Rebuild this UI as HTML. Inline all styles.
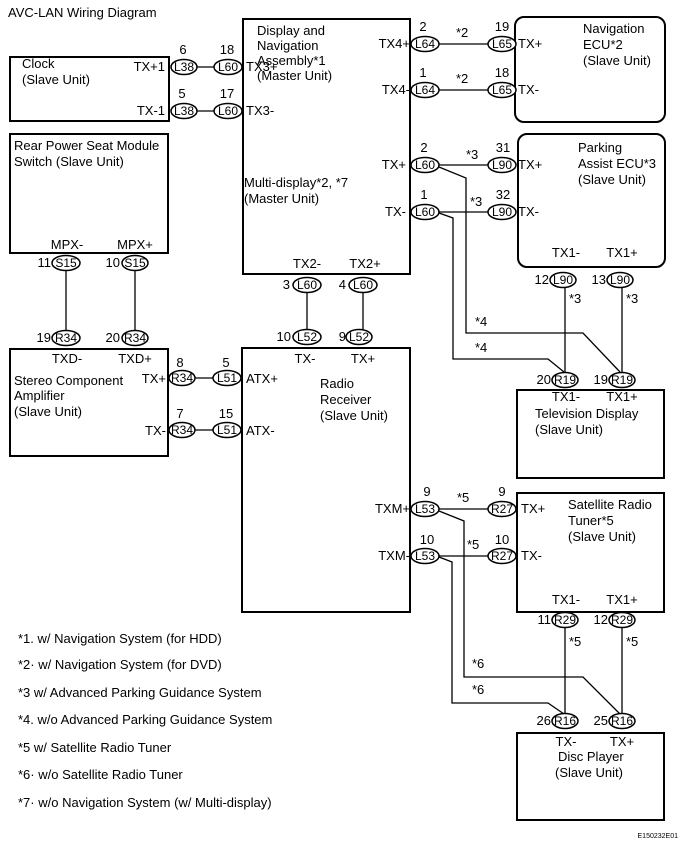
<!DOCTYPE html>
<html><head><meta charset="utf-8"><style>
html,body{margin:0;padding:0;background:#fff;}
svg{display:block;}
text{font-family:"Liberation Sans",Arial,sans-serif;font-size:13px;fill:#000;}
.c text{font-size:12px;}
</style></head><body>
<svg width="686" height="847" viewBox="0 0 686 847" xmlns="http://www.w3.org/2000/svg">
<g fill="none" stroke="#000" stroke-width="2">
<rect x="10" y="57" width="159" height="64"/>
<rect x="10" y="134" width="158" height="119"/>
<rect x="10" y="349" width="158" height="107"/>
<rect x="243" y="19" width="167" height="255"/>
<rect x="242" y="348" width="168" height="264"/>
<rect x="515" y="17" width="150" height="105" rx="9"/>
<rect x="518" y="134" width="147" height="133" rx="9"/>
<rect x="517" y="390" width="147" height="88"/>
<rect x="517" y="493" width="147" height="119"/>
<rect x="517" y="733" width="147" height="87"/>
</g>
<g fill="none" stroke="#000" stroke-width="1.3">
<line x1="196" y1="67" x2="215" y2="67"/><line x1="196" y1="111" x2="215" y2="111"/>
<line x1="439" y1="44" x2="488" y2="44"/><line x1="439" y1="90" x2="488" y2="90"/>
<line x1="439" y1="165" x2="488" y2="165"/><line x1="439" y1="212" x2="488" y2="212"/>
<polyline points="439,167 466,178 466,333 583,333 620,372"/>
<polyline points="439,213 453,218 453,359 548,359 564,372"/>
<line x1="565" y1="287" x2="565" y2="373"/><line x1="622" y1="287" x2="622" y2="373"/>
<line x1="66" y1="270" x2="66" y2="331"/><line x1="135" y1="270" x2="135" y2="331"/>
<line x1="307" y1="292" x2="307" y2="330"/><line x1="363" y1="292" x2="363" y2="330"/>
<line x1="194" y1="378" x2="214" y2="378"/><line x1="194" y1="430" x2="214" y2="430"/>
<line x1="439" y1="509" x2="488" y2="509"/><line x1="439" y1="556" x2="488" y2="556"/>
<polyline points="439,511 464,521 464,677 583,677 620,714"/>
<polyline points="439,557 452,562 452,703 548,703 564,714"/>
<line x1="565" y1="627" x2="565" y2="715"/><line x1="622" y1="627" x2="622" y2="715"/>
</g>
<g fill="#fff" stroke="#000" stroke-width="1.5">
<ellipse cx="184" cy="67" rx="13" ry="7.5"/><ellipse cx="228" cy="67" rx="14" ry="7.5"/>
<ellipse cx="184" cy="111" rx="13" ry="7.5"/><ellipse cx="228" cy="111" rx="14" ry="7.5"/>
<ellipse cx="425" cy="44" rx="14" ry="7.5"/><ellipse cx="502" cy="44" rx="14" ry="7.5"/>
<ellipse cx="425" cy="90" rx="14" ry="7.5"/><ellipse cx="502" cy="90" rx="14" ry="7.5"/>
<ellipse cx="425" cy="165" rx="14" ry="7.5"/><ellipse cx="502" cy="165" rx="14" ry="7.5"/>
<ellipse cx="425" cy="212" rx="14" ry="7.5"/><ellipse cx="502" cy="212" rx="14" ry="7.5"/>
<ellipse cx="563" cy="280" rx="13" ry="7.5"/><ellipse cx="620" cy="280" rx="13" ry="7.5"/>
<ellipse cx="565" cy="380" rx="13" ry="7.5"/><ellipse cx="622" cy="380" rx="13" ry="7.5"/>
<ellipse cx="66" cy="263" rx="14" ry="7.5"/><ellipse cx="135" cy="263" rx="13" ry="7.5"/>
<ellipse cx="66" cy="338" rx="14" ry="7.5"/><ellipse cx="135" cy="338" rx="13" ry="7.5"/>
<ellipse cx="307" cy="285" rx="14" ry="7.5"/><ellipse cx="363" cy="285" rx="14" ry="7.5"/>
<ellipse cx="307" cy="337" rx="14" ry="7.5"/><ellipse cx="359" cy="337" rx="13" ry="7.5"/>
<ellipse cx="182" cy="378" rx="13" ry="7.5"/><ellipse cx="227" cy="378" rx="14" ry="7.5"/>
<ellipse cx="182" cy="430" rx="13" ry="7.5"/><ellipse cx="227" cy="430" rx="14" ry="7.5"/>
<ellipse cx="425" cy="509" rx="14" ry="7.5"/><ellipse cx="502" cy="509" rx="14" ry="7.5"/>
<ellipse cx="425" cy="556" rx="14" ry="7.5"/><ellipse cx="502" cy="556" rx="14" ry="7.5"/>
<ellipse cx="565" cy="620" rx="13" ry="7.5"/><ellipse cx="622" cy="620" rx="13" ry="7.5"/>
<ellipse cx="565" cy="721" rx="13" ry="7.5"/><ellipse cx="622" cy="721" rx="13" ry="7.5"/>
</g>
<g text-anchor="middle" class="c">
<text x="184" y="71">L38</text><text x="228" y="71">L60</text>
<text x="184" y="115">L38</text><text x="228" y="115">L60</text>
<text x="425" y="48">L64</text><text x="502" y="48">L65</text>
<text x="425" y="94">L64</text><text x="502" y="94">L65</text>
<text x="425" y="169">L60</text><text x="502" y="169">L90</text>
<text x="425" y="216">L60</text><text x="502" y="216">L90</text>
<text x="563" y="284">L90</text><text x="620" y="284">L90</text>
<text x="565" y="384">R19</text><text x="622" y="384">R19</text>
<text x="66" y="267">S15</text><text x="135" y="267">S15</text>
<text x="66" y="342">R34</text><text x="135" y="342">R34</text>
<text x="307" y="289">L60</text><text x="363" y="289">L60</text>
<text x="307" y="341">L52</text><text x="359" y="341">L52</text>
<text x="182" y="382">R34</text><text x="227" y="382">L51</text>
<text x="182" y="434">R34</text><text x="227" y="434">L51</text>
<text x="425" y="513">L53</text><text x="502" y="513">R27</text>
<text x="425" y="560">L53</text><text x="502" y="560">R27</text>
<text x="565" y="624">R29</text><text x="622" y="624">R29</text>
<text x="565" y="725">R16</text><text x="622" y="725">R16</text>
</g>
<g text-anchor="middle">
<text x="183" y="54">6</text><text x="227" y="54">18</text>
<text x="182" y="98">5</text><text x="227" y="98">17</text>
<text x="423" y="31">2</text><text x="502" y="31">19</text>
<text x="423" y="77">1</text><text x="502" y="77">18</text>
<text x="424" y="152">2</text><text x="503" y="152">31</text>
<text x="424" y="199">1</text><text x="503" y="199">32</text>
<text x="180" y="367">8</text><text x="226" y="367">5</text>
<text x="180" y="418">7</text><text x="226" y="418">15</text>
<text x="427" y="496">9</text><text x="502" y="496">9</text>
<text x="427" y="544">10</text><text x="502" y="544">10</text>
<text x="566" y="401">TX1-</text><text x="622" y="401">TX1+</text>
<text x="566" y="746">TX-</text><text x="622" y="746">TX+</text>
<text x="67" y="249">MPX-</text><text x="135" y="249">MPX+</text>
<text x="67" y="363">TXD-</text><text x="135" y="363">TXD+</text>
<text x="307" y="268">TX2-</text><text x="365" y="268">TX2+</text>
<text x="305" y="363">TX-</text><text x="363" y="363">TX+</text>
<text x="566" y="257">TX1-</text><text x="622" y="257">TX1+</text>
<text x="566" y="604">TX1-</text><text x="622" y="604">TX1+</text>
</g>
<g text-anchor="end">
<text x="290" y="289">3</text><text x="346" y="289">4</text>
<text x="291" y="341">10</text><text x="346" y="341">9</text>
<text x="51" y="267">11</text><text x="120" y="267">10</text>
<text x="51" y="342">19</text><text x="120" y="342">20</text>
<text x="549" y="284">12</text><text x="606" y="284">13</text>
<text x="551" y="384">20</text><text x="608" y="384">19</text>
<text x="551" y="624">11</text><text x="608" y="624">12</text>
<text x="551" y="725">26</text><text x="608" y="725">25</text>
<text x="165" y="71">TX+1</text><text x="165" y="115">TX-1</text>
<text x="410" y="48">TX4+</text><text x="410" y="94">TX4-</text>
<text x="406" y="169">TX+</text><text x="406" y="216">TX-</text>
<text x="166" y="383">TX+</text><text x="166" y="435">TX-</text>
<text x="410" y="513">TXM+</text><text x="410" y="560">TXM-</text>
</g>
<text x="8" y="17">AVC-LAN Wiring Diagram</text>
<text x="22" y="68">Clock</text><text x="22" y="84">(Slave Unit)</text>
<text x="14" y="150">Rear Power Seat Module</text><text x="14" y="166">Switch (Slave Unit)</text>
<text x="246" y="71">TX3+</text><text x="246" y="115">TX3-</text>
<text x="257" y="35">Display and</text><text x="257" y="50">Navigation</text>
<text x="257" y="65">Assembly*1</text><text x="257" y="80">(Master Unit)</text>
<text x="244" y="187">Multi-display*2, *7</text><text x="244" y="203">(Master Unit)</text>
<text x="518" y="48">TX+</text><text x="518" y="94">TX-</text>
<text x="583" y="33">Navigation</text><text x="583" y="49">ECU*2</text><text x="583" y="65">(Slave Unit)</text>
<text x="518" y="169">TX+</text><text x="518" y="216">TX-</text>
<text x="578" y="152">Parking</text><text x="578" y="168">Assist ECU*3</text><text x="578" y="184">(Slave Unit)</text>
<text x="456" y="37">*2</text><text x="456" y="83">*2</text>
<text x="466" y="159">*3</text><text x="470" y="206">*3</text>
<text x="569" y="303">*3</text><text x="626" y="303">*3</text>
<text x="475" y="326">*4</text><text x="475" y="352">*4</text>
<text x="535" y="418">Television Display</text><text x="535" y="434">(Slave Unit)</text>
<text x="246" y="383">ATX+</text><text x="246" y="435">ATX-</text>
<text x="14" y="385">Stereo Component</text><text x="14" y="400">Amplifier</text><text x="14" y="416">(Slave Unit)</text>
<text x="320" y="388">Radio</text><text x="320" y="404">Receiver</text><text x="320" y="420">(Slave Unit)</text>
<text x="457" y="502">*5</text><text x="467" y="549">*5</text>
<text x="521" y="513">TX+</text><text x="521" y="560">TX-</text>
<text x="568" y="509">Satellite Radio</text><text x="568" y="525">Tuner*5</text><text x="568" y="541">(Slave Unit)</text>
<text x="569" y="646">*5</text><text x="626" y="646">*5</text>
<text x="472" y="668">*6</text><text x="472" y="694">*6</text>
<text x="558" y="761">Disc Player</text><text x="555" y="777">(Slave Unit)</text>
<text x="18" y="643">*1. w/ Navigation System (for HDD)</text>
<text x="18" y="669">*2· w/ Navigation System (for DVD)</text>
<text x="18" y="697">*3  w/ Advanced Parking Guidance System</text>
<text x="18" y="724">*4. w/o Advanced Parking Guidance System</text>
<text x="18" y="752">*5  w/ Satellite Radio Tuner</text>
<text x="18" y="779">*6· w/o Satellite Radio Tuner</text>
<text x="18" y="807">*7· w/o Navigation System (w/ Multi-display)</text>
<text x="678" y="838" text-anchor="end" style="font-size:7px">E150232E01</text>
</svg>
</body></html>
